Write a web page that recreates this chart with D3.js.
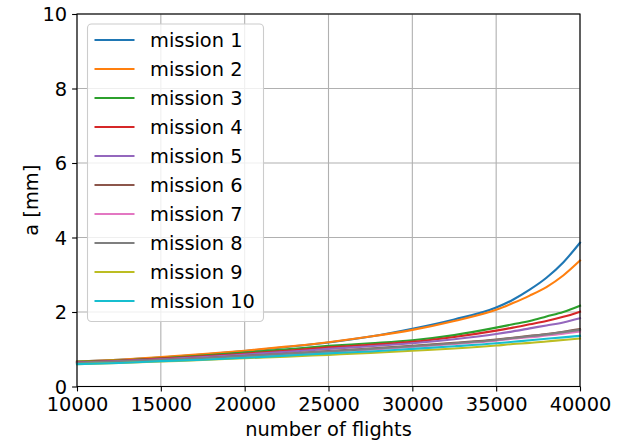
<!DOCTYPE html>
<html>
<head>
<meta charset="utf-8">
<script src="https://cdn.jsdelivr.net/npm/d3@7"></script>
<style>
  html, body { margin: 0; padding: 0; background: #fff; }
  svg { display: block; font-family: "DejaVu Sans", sans-serif; }
</style>
</head>
<body>
<svg id="chart" width="626" height="442"></svg>
<script>
// Number of flights at which the crack length a is sampled
const flights = [10000, 12500, 15000, 17500, 20000, 22500, 25000, 27500, 30000,
                 32500, 35000, 36000, 37000, 38000, 39000, 40000];

// Crack length a [mm] per mission
const mission1  = [0.67, 0.72, 0.78, 0.86, 0.95, 1.06, 1.18, 1.34, 1.55, 1.80, 2.12, 2.33, 2.60, 2.92, 3.33, 3.86];
const mission2  = [0.67, 0.72, 0.79, 0.87, 0.96, 1.07, 1.19, 1.34, 1.52, 1.76, 2.06, 2.24, 2.44, 2.67, 2.98, 3.38];
const mission3  = [0.66, 0.70, 0.76, 0.83, 0.91, 1.00, 1.09, 1.16, 1.24, 1.38, 1.58, 1.67, 1.76, 1.88, 2.00, 2.17];
const mission4  = [0.65, 0.69, 0.75, 0.81, 0.88, 0.96, 1.05, 1.12, 1.20, 1.33, 1.50, 1.58, 1.67, 1.76, 1.87, 2.01];
const mission5  = [0.64, 0.68, 0.73, 0.79, 0.86, 0.93, 1.01, 1.08, 1.16, 1.27, 1.41, 1.48, 1.56, 1.64, 1.72, 1.83];
const mission6  = [0.63, 0.67, 0.71, 0.76, 0.82, 0.88, 0.95, 1.02, 1.09, 1.17, 1.26, 1.31, 1.36, 1.41, 1.47, 1.54];
const mission7  = [0.62, 0.66, 0.70, 0.75, 0.80, 0.86, 0.93, 0.99, 1.06, 1.14, 1.23, 1.28, 1.32, 1.37, 1.42, 1.48];
const mission8  = [0.63, 0.67, 0.71, 0.76, 0.82, 0.88, 0.94, 1.01, 1.08, 1.16, 1.25, 1.30, 1.35, 1.40, 1.46, 1.52];
const mission9  = [0.60, 0.63, 0.67, 0.71, 0.76, 0.80, 0.85, 0.90, 0.96, 1.02, 1.10, 1.14, 1.17, 1.21, 1.25, 1.29];
const mission10 = [0.60, 0.63, 0.68, 0.72, 0.77, 0.83, 0.89, 0.94, 1.01, 1.08, 1.16, 1.20, 1.24, 1.28, 1.32, 1.36];

const seriesNames  = ["mission 1", "mission 2", "mission 3", "mission 4", "mission 5",
                      "mission 6", "mission 7", "mission 8", "mission 9", "mission 10"];
const seriesValues = [mission1, mission2, mission3, mission4, mission5,
                      mission6, mission7, mission8, mission9, mission10];
const seriesColors = ["#1f77b4", "#ff7f0e", "#2ca02c", "#d62728", "#9467bd",
                      "#8c564b", "#e377c2", "#7f7f7f", "#bcbd22", "#17becf"];

const xTicks = [10000, 15000, 20000, 25000, 30000, 35000, 40000];
const yTicks = [0, 2, 4, 6, 8, 10];

const svg = d3.select("#chart");
const plot = { left: 77, right: 580, top: 14, bottom: 386.5 };
const fontSize = 19.4;

const x = d3.scaleLinear().domain([10000, 40000]).range([plot.left, plot.right]);
const y = d3.scaleLinear().domain([0, 10]).range([plot.bottom, plot.top]);

// grid
const grid = svg.append("g").attr("stroke", "#b0b0b0").attr("stroke-width", 1.1);
grid.selectAll("line.gx").data(xTicks).join("line")
  .attr("x1", d => x(d)).attr("x2", d => x(d))
  .attr("y1", plot.top).attr("y2", plot.bottom);
grid.selectAll("line.gy").data(yTicks).join("line")
  .attr("x1", plot.left).attr("x2", plot.right)
  .attr("y1", d => y(d)).attr("y2", d => y(d));

// curves
const line = d3.line()
  .x((d, i) => x(flights[i]))
  .y(d => y(d))
  .curve(d3.curveMonotoneX);

svg.append("g").selectAll("path").data(seriesValues).join("path")
  .attr("d", d => line(d))
  .attr("fill", "none")
  .attr("stroke", (d, i) => seriesColors[i])
  .attr("stroke-width", 2.1)
  .attr("stroke-linejoin", "round")
  .attr("stroke-linecap", "square");

// frame
svg.append("rect")
  .attr("x", plot.left).attr("y", plot.top)
  .attr("width", plot.right - plot.left).attr("height", plot.bottom - plot.top)
  .attr("fill", "none").attr("stroke", "#000").attr("stroke-width", 1.1);

// axes
const xAxis = d3.axisBottom(x).tickValues(xTicks).tickFormat(d3.format("d"))
  .tickSize(4.9).tickPadding(4.9);
const yAxis = d3.axisLeft(y).tickValues(yTicks).tickFormat(d3.format("d"))
  .tickSize(4.9).tickPadding(4.9);

const gx = svg.append("g").attr("transform", `translate(0,${plot.bottom})`).call(xAxis);
const gy = svg.append("g").attr("transform", `translate(${plot.left},0)`).call(yAxis);
[gx, gy].forEach(g => {
  g.select(".domain").remove();
  g.selectAll(".tick line").attr("stroke", "#000").attr("stroke-width", 1.1);
  g.selectAll(".tick text")
    .attr("fill", "#000")
    .attr("font-size", fontSize)
    .attr("font-family", "DejaVu Sans, sans-serif");
});
gx.selectAll(".tick text").attr("dy", null).attr("y", 24.2);
gy.selectAll(".tick text").attr("dy", "0.36em");

// axis labels
svg.append("text")
  .attr("x", (plot.left + plot.right) / 2).attr("y", 436)
  .attr("text-anchor", "middle").attr("font-size", fontSize).attr("fill", "#000")
  .text("number of flights");
svg.append("text")
  .attr("transform", `translate(38,${(plot.top + plot.bottom) / 2}) rotate(-90)`)
  .attr("text-anchor", "middle").attr("font-size", fontSize).attr("fill", "#000")
  .text("a [mm]");

// legend
const legend = svg.append("g");
legend.append("rect")
  .attr("x", 87.5).attr("y", 24).attr("width", 176).attr("height", 297.5)
  .attr("rx", 4).attr("ry", 4)
  .attr("fill", "#fff").attr("fill-opacity", 0.8)
  .attr("stroke", "#cccccc").attr("stroke-width", 1.1);

const rowY = d3.scaleLinear().domain([0, 9]).range([40, 301]);
const items = legend.selectAll("g.item").data(seriesNames).join("g")
  .attr("transform", (d, i) => `translate(0,${rowY(i)})`);
items.append("line")
  .attr("x1", 94.5).attr("x2", 134.5).attr("y1", 0).attr("y2", 0)
  .attr("stroke", (d, i) => seriesColors[i]).attr("stroke-width", 2.1);
items.append("text")
  .attr("x", 150).attr("y", 0).attr("dy", "0.36em")
  .attr("font-size", fontSize).attr("fill", "#000")
  .text(d => d);
</script>
</body>
</html>
